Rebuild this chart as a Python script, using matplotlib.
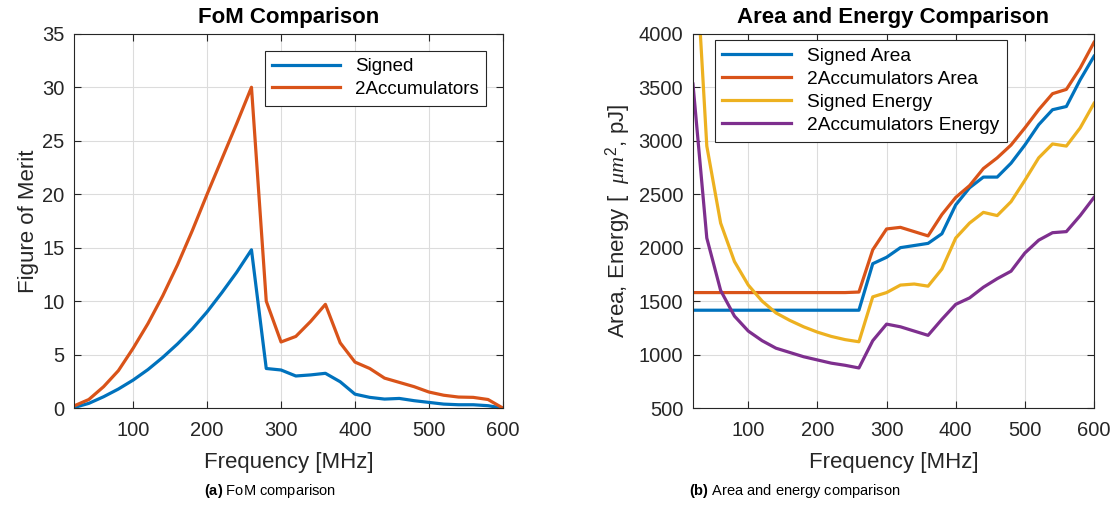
import matplotlib
matplotlib.use("Agg")
import matplotlib.pyplot as plt

plt.rcParams['font.family'] = ['Liberation Sans', 'DejaVu Sans']
plt.rcParams['mathtext.fontset'] = 'custom'
plt.rcParams['mathtext.it'] = 'Liberation Serif:italic'
plt.rcParams['mathtext.rm'] = 'Liberation Sans'
plt.rcParams['mathtext.bf'] = 'Liberation Sans:bold'

freq = list(range(20, 601, 20))

fom_signed = [0.05, 0.44, 1.06, 1.78, 2.62, 3.6, 4.74, 6.0, 7.4, 9.0, 10.8, 12.7, 14.8,
              3.7, 3.56, 3.0, 3.1, 3.25, 2.46, 1.3, 1.0, 0.84, 0.9, 0.69, 0.53, 0.37,
              0.31, 0.31, 0.22, 0.0]
fom_2acc = [0.2, 0.8, 2.0, 3.5, 5.6, 7.9, 10.5, 13.4, 16.6, 20.0, 23.3, 26.6, 30.0,
            10.0, 6.18, 6.7, 8.1, 9.7, 6.1, 4.3, 3.7, 2.8, 2.4, 2.0, 1.5, 1.2,
            1.03, 1.0, 0.8, 0.0]

area_signed = [1415] * 13 + [1850, 1910, 2000, 2020, 2040, 2130, 2400, 2560, 2660,
                             2660, 2790, 2960, 3150, 3290, 3320, 3570, 3790]
area_2acc = [1580] * 12 + [1585, 1980, 2175, 2190, 2150, 2110, 2310, 2470, 2580, 2740,
                           2840, 2960, 3120, 3290, 3440, 3480, 3680, 3920]
energy_signed = [5200, 2950, 2230, 1870, 1650, 1500, 1390, 1320, 1260, 1210, 1170,
                 1140, 1120, 1540, 1580, 1650, 1660, 1640, 1800, 2090, 2230, 2330,
                 2300, 2430, 2630, 2840, 2970, 2950, 3120, 3350]
energy_2acc = [3530, 2090, 1600, 1360, 1220, 1130, 1060, 1020, 980, 950, 920, 900,
               875, 1130, 1285, 1260, 1220, 1180, 1330, 1470, 1530, 1630, 1710, 1780,
               1950, 2070, 2140, 2150, 2300, 2470]

colors = ['#0072BD', '#D95319', '#EDB120', '#7E2F8E']
txt = '#262626'

fig = plt.figure(figsize=(11.1, 5.12), dpi=100)
ax1 = fig.add_axes([0.0667, 0.203, 0.3863, 0.731])
ax2 = fig.add_axes([0.6243, 0.203, 0.3613, 0.731])


def style(ax):
    ax.grid(True, color='#dcdcdc', linewidth=0.8)
    ax.set_axisbelow(True)
    ax.tick_params(direction='in', top=True, right=True, labelsize=14.5,
                   colors=txt, length=5, pad=7)
    ax.tick_params(axis='x', pad=9)
    for s in ax.spines.values():
        s.set_color(txt)
        s.set_linewidth(0.8)
    ax.set_xlim(20, 600)
    ax.set_xticks([100, 200, 300, 400, 500, 600])
    ax.set_xlabel('Frequency [MHz]', fontsize=16, color=txt, labelpad=9)


ax1.plot(freq, fom_signed, color=colors[0], lw=2.3, label='Signed')
ax1.plot(freq, fom_2acc, color=colors[1], lw=2.3, label='2Accumulators')
style(ax1)
ax1.set_ylim(0, 35)
ax1.set_yticks(range(0, 36, 5))
ax1.set_ylabel('Figure of Merit', fontsize=16, color=txt, labelpad=2)
ax1.set_title('FoM Comparison', fontsize=16, fontweight='bold', pad=8)
leg = ax1.legend(loc='upper right', fontsize=13.5, fancybox=False, framealpha=1,
                 edgecolor=txt, handlelength=3.6, borderaxespad=0.9,
                 labelspacing=0.3)
leg.get_frame().set_linewidth(0.8)

ax2.plot(freq, area_signed, color=colors[0], lw=2.3, label='Signed Area')
ax2.plot(freq, area_2acc, color=colors[1], lw=2.3, label='2Accumulators Area')
ax2.plot(freq, energy_signed, color=colors[2], lw=2.3, label='Signed Energy')
ax2.plot(freq, energy_2acc, color=colors[3], lw=2.3, label='2Accumulators Energy')
style(ax2)
ax2.set_ylim(500, 4000)
ax2.set_yticks(range(500, 4001, 500))
ax2.set_ylabel(r'Area, Energy [  $\mu m^2$, pJ]', fontsize=16, color=txt, labelpad=4)
ax2.set_title('Area and Energy Comparison', fontsize=16, fontweight='bold', pad=8)
leg2 = ax2.legend(loc='upper left', fontsize=13.8, fancybox=False, framealpha=1,
                  edgecolor=txt, handlelength=3.6, borderaxespad=0.3,
                  labelspacing=0.3, bbox_to_anchor=(0.04, 1.0))
leg2.get_frame().set_linewidth(0.8)

fig.text(0.243, 0.033, r'$\mathbf{(a)}$ FoM comparison', ha='center', fontsize=10.5)
fig.text(0.716, 0.033, r'$\mathbf{(b)}$ Area and energy comparison', ha='center', fontsize=10.5)

fig.savefig('out.png', dpi=100)
